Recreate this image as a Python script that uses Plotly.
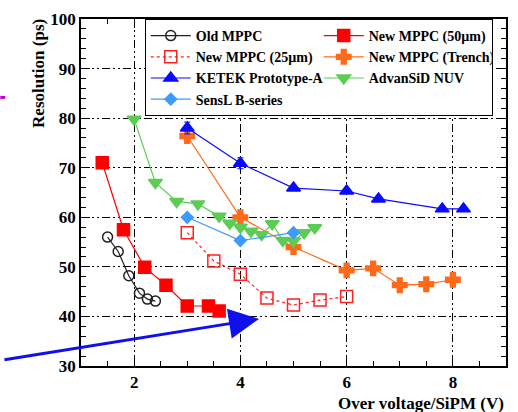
import plotly.graph_objects as go

old_x = [1.5, 1.7, 1.9, 2.1, 2.25, 2.4]
old_y = [56.0, 53.1, 48.2, 44.7, 43.5, 43.1]

m50_x = [1.4, 1.8, 2.2, 2.6, 3.0, 3.4, 3.6]
m50_y = [71.0, 57.5, 49.9, 46.3, 42.1, 42.1, 41.1]

m25_x = [3.0, 3.5, 4.0, 4.5, 5.0, 5.5, 6.0]
m25_y = [56.9, 51.2, 48.5, 43.7, 42.3, 43.3, 44.0]

tr_x = [3.0, 4.0, 5.0, 6.0, 6.5, 7.0, 7.5, 8.0]
tr_y = [76.4, 60.0, 54.0, 49.3, 49.7, 46.3, 46.5, 47.4]
tr_err = [1.0, 0.6, 0.6, 0.5, 0.5, 0.5, 0.5, 0.5]

ke_x = [3.0, 4.0, 5.0, 6.0, 6.6, 7.8, 8.2]
ke_y = [78.0, 70.9, 65.9, 65.3, 63.7, 61.7, 61.7]
ke_err = [1.2, 1.1, 0.5, 0.5, 0.5, 0.4, 0.4]

ad_x = [2.0, 2.4, 2.8, 3.2, 3.6, 3.8, 4.0, 4.2, 4.4, 4.6, 4.8, 5.0, 5.2, 5.4]
ad_y = [79.8, 67.0, 63.2, 62.7, 60.2, 58.8, 58.0, 57.2, 56.5, 58.7, 55.3, 55.2, 56.9, 57.9]

se_x = [3.0, 4.0, 5.0]
se_y = [60.0, 55.3, 56.9]

FONT = "Liberation Serif"

fig = go.Figure()

def add(name, x, y, color, symbol, size, dash="solid", err=None):
    fig.add_trace(go.Scatter(
        x=x, y=y, name=name, mode="lines+markers",
        line=dict(color=color, width=1.2, dash=dash),
        marker=dict(symbol=symbol, size=size, color=color,
                    line=dict(color=color, width=1.5)),
        error_y=dict(type="data", array=err, color=color, thickness=1, width=3, visible=err is not None),
    ))

add("Old MPPC", old_x, old_y, "#222222", "circle-open", 10)
add("New MPPC (50µm)", m50_x, m50_y, "#ff0000", "square", 12)
add("New MPPC (25µm)", m25_x, m25_y, "#ff2020", "square-open", 12, dash="dot")
add("New MPPC (Trench)", tr_x, tr_y, "#ff6a1a", "cross", 12, err=tr_err)
add("KETEK Prototype-A", ke_x, ke_y, "#0a0aff", "triangle-up", 12, err=ke_err)
add("AdvanSiD NUV", ad_x, ad_y, "#5ccc55", "triangle-down", 12)
add("SensL B-series", se_x, se_y, "#3d9bff", "diamond", 9)

axis_common = dict(
    showline=True, linecolor="black", linewidth=1.5, mirror="ticks",
    ticks="inside", ticklen=9, tickwidth=1.2, tickcolor="black",
    showgrid=True, gridcolor="black", gridwidth=1, griddash="8px,3px,2px,3px,2px,3px",
    zeroline=False,
    tickfont=dict(family=FONT, size=17, color="black", weight="bold"),
)

fig.update_xaxes(range=[1, 9], tick0=0, dtick=2, ticklabelstandoff=0,
                 minor=dict(dtick=0.5, ticks="inside", ticklen=5, tickcolor="black", showgrid=False),
                 **axis_common)
fig.update_yaxes(range=[30, 100], tick0=0, dtick=10,
                 minor=dict(dtick=2, ticks="inside", ticklen=5, tickcolor="black", showgrid=False),
                 **axis_common)

fig.update_layout(
    width=518, height=412,
    margin=dict(l=81, r=10, t=17, b=46),
    plot_bgcolor="white", paper_bgcolor="white",
    font=dict(family=FONT, color="black"),
    legend=dict(
        x=0.15, y=1.0, xanchor="left", yanchor="top",
        orientation="h", entrywidth=118, entrywidthmode="pixels",
        bgcolor="white", bordercolor="black", borderwidth=1,
        font=dict(family=FONT, size=14, color="black", weight="bold"),
        itemwidth=40,
    ),
    showlegend=True,
)

fig.add_annotation(xref="paper", yref="paper", x=-0.1, y=1.006, xanchor="center", yanchor="top",
                   text="Resolution (ps)", textangle=-90, showarrow=False,
                   font=dict(family=FONT, size=17, color="black", weight="bold"))
fig.add_annotation(xref="paper", yref="paper", x=1.0, y=-0.075, xanchor="right", yanchor="top",
                   text="Over voltage/SiPM (V)", showarrow=False,
                   font=dict(family=FONT, size=17, color="black", weight="bold"))

# blue arrow
fig.add_annotation(x=4.35, y=39.5, xref="x", yref="y", ax=-256, ay=41, axref="pixel", ayref="pixel",
                   showarrow=True, arrowhead=2, arrowsize=2, arrowwidth=3, arrowcolor="#1010ee",
                   text="")
# magenta mark
fig.add_shape(type="line", xref="paper", yref="paper", x0=-0.19, x1=-0.178, y0=0.774, y1=0.774,
              line=dict(color="#cc00cc", width=3))

fig.write_html("out.html")
